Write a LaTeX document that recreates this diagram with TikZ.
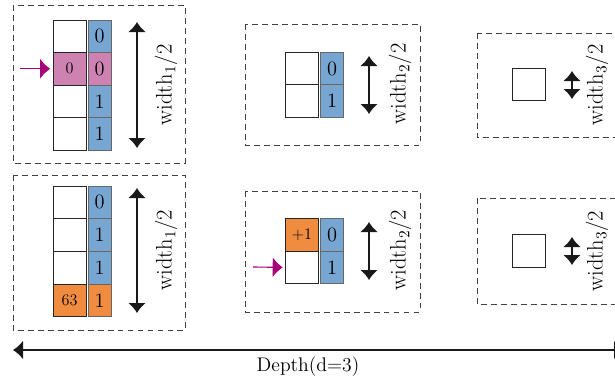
\documentclass[tikz,border=0pt]{standalone}
\usepackage{tikz}
\usetikzlibrary{arrows.meta,positioning}

\definecolor{bitblue}{RGB}{120,166,210}
\definecolor{hitpink}{RGB}{206,130,178}
\definecolor{sumorange}{RGB}{240,140,64}
\definecolor{ptrmagenta}{RGB}{168,0,120}

\begin{document}
\begin{tikzpicture}[x=0.025cm,y=-0.025cm,
    font=\fontsize{14}{16}\selectfont,
    level/.style={draw=black!75, dash pattern=on 4.2pt off 2.9pt, line width=0.7pt},
    key/.style={draw=black!85, line width=0.5pt, minimum width=0.825cm, minimum height=0.81cm,
                inner sep=0pt, outer sep=0pt, font=\fontsize{11.5}{13}\selectfont},
    bit/.style={draw=black!60, line width=0.5pt, fill=bitblue, minimum width=0.575cm,
                minimum height=0.81cm, inner sep=0pt, outer sep=0pt, font=\fontsize{14.5}{16}\selectfont},
    dim/.style={{Latex[length=2.5mm,width=4.5mm]}-{Latex[length=2.5mm,width=4.5mm]}, line width=1.4pt, black!90},
    ptr/.style={-{Latex[length=2.5mm,width=5mm]}, line width=0.8pt, ptrmagenta, shorten >=2pt},
    lbl/.style={rotate=90, inner sep=0pt, font=\fontsize{16}{18}\selectfont}]

    % Fix the frame
    \useasboundingbox (0,0) rectangle (615,383);
    \clip (0,0) rectangle (615,383);

    % Level boxes
    \draw[level] (13,5) rectangle (185,163);
    \draw[level] (13,175) rectangle (185,330);
    \draw[level] (245,24) rectangle (420,145);
    \draw[level] (245,191) rectangle (420,312);
    \draw[level] (477,33) rectangle (650,137);
    \draw[level] (477,198) rectangle (650,304);

    % Level 1, query
    \foreach \i/\f/\t in {1/white/{},2/hitpink/0,3/white/{},4/white/{}} {
        \node[key, fill=\f] (ka\i) at (69.5,3.75+32.5*\i) {\t};
    }
    \foreach \i/\f/\b in {1/bitblue/0,2/hitpink/0,3/bitblue/1,4/bitblue/1} {
        \node[bit, fill=\f] (ba\i) at (99.5,3.75+32.5*\i) {\b};
    }
    \coordinate (pa) at (20,68.75);
    \draw[ptr] (pa) -- (ka2.west);
    \coordinate (wa1) at (137,22);
    \coordinate (wa2) at (137,148);
    \draw[dim] (wa1) -- (wa2);
    \node[lbl] (la) at (166,85) {width$_1$/2};

    % Level 1, update
    \foreach \i/\f/\t in {1/white/{},2/white/{},3/white/{},4/sumorange/63} {
        \node[key, fill=\f] (kb\i) at (69.5,169.5+32.75*\i) {\t};
    }
    \foreach \i/\f/\b in {1/bitblue/0,2/bitblue/1,3/bitblue/1,4/sumorange/1} {
        \node[bit, fill=\f] (bb\i) at (99.5,169.5+32.75*\i) {\b};
    }
    \coordinate (wb1) at (137,188);
    \coordinate (wb2) at (137,313);
    \draw[dim] (wb1) -- (wb2);
    \node[lbl] (lb) at (166,250) {width$_1$/2};

    % Level 2, query
    \node[key] (kc1) at (302,68.5) {};
    \node[key, below=0pt of kc1] (kc2) {};
    \node[bit, right=0.05cm of kc1] (bc1) {0};
    \node[bit, right=0.05cm of kc2] (bc2) {1};
    \coordinate (wc1) at (369,56);
    \coordinate (wc2) at (369,114);
    \draw[dim] (wc1) -- (wc2);
    \node[lbl] (lc) at (400,84) {width$_2$/2};

    % Level 2, update
    \node[key, fill=sumorange] (kd1) at (302,235) {+1};
    \node[key, below=0pt of kd1] (kd2) {};
    \node[bit, right=0.05cm of kd1] (bd1) {0};
    \node[bit, right=0.05cm of kd2] (bd2) {1};
    \coordinate (pd) at (253,267);
    \draw[ptr] (pd) -- (kd2.west);
    \coordinate (wd1) at (369,222);
    \coordinate (wd2) at (369,280);
    \draw[dim] (wd1) -- (wd2);
    \node[lbl] (ld) at (400,250) {width$_2$/2};

    % Level 3
    \node[key] (ke) at (529,84.5) {};
    \coordinate (we1) at (572,71);
    \coordinate (we2) at (572,99);
    \draw[dim] (we1) -- (we2);
    \node[lbl] (le) at (597,85) {width$_3$/2};

    \node[key] (kf) at (529,251) {};
    \coordinate (wf1) at (572,237);
    \coordinate (wf2) at (572,265);
    \draw[dim] (wf1) -- (wf2);
    \node[lbl] (lf) at (597,251) {width$_3$/2};

    % Depth axis
    \coordinate (d0) at (13,350);
    \coordinate (d1) at (624,350);
    \draw[{Latex[length=2.5mm,width=4.7mm]}-{Latex[length=2.5mm,width=4.7mm]}, line width=1.1pt, black!90] (d0) -- (d1);
    \node (depth) at (308,367) {Depth(d=3)};
\end{tikzpicture}
\end{document}
